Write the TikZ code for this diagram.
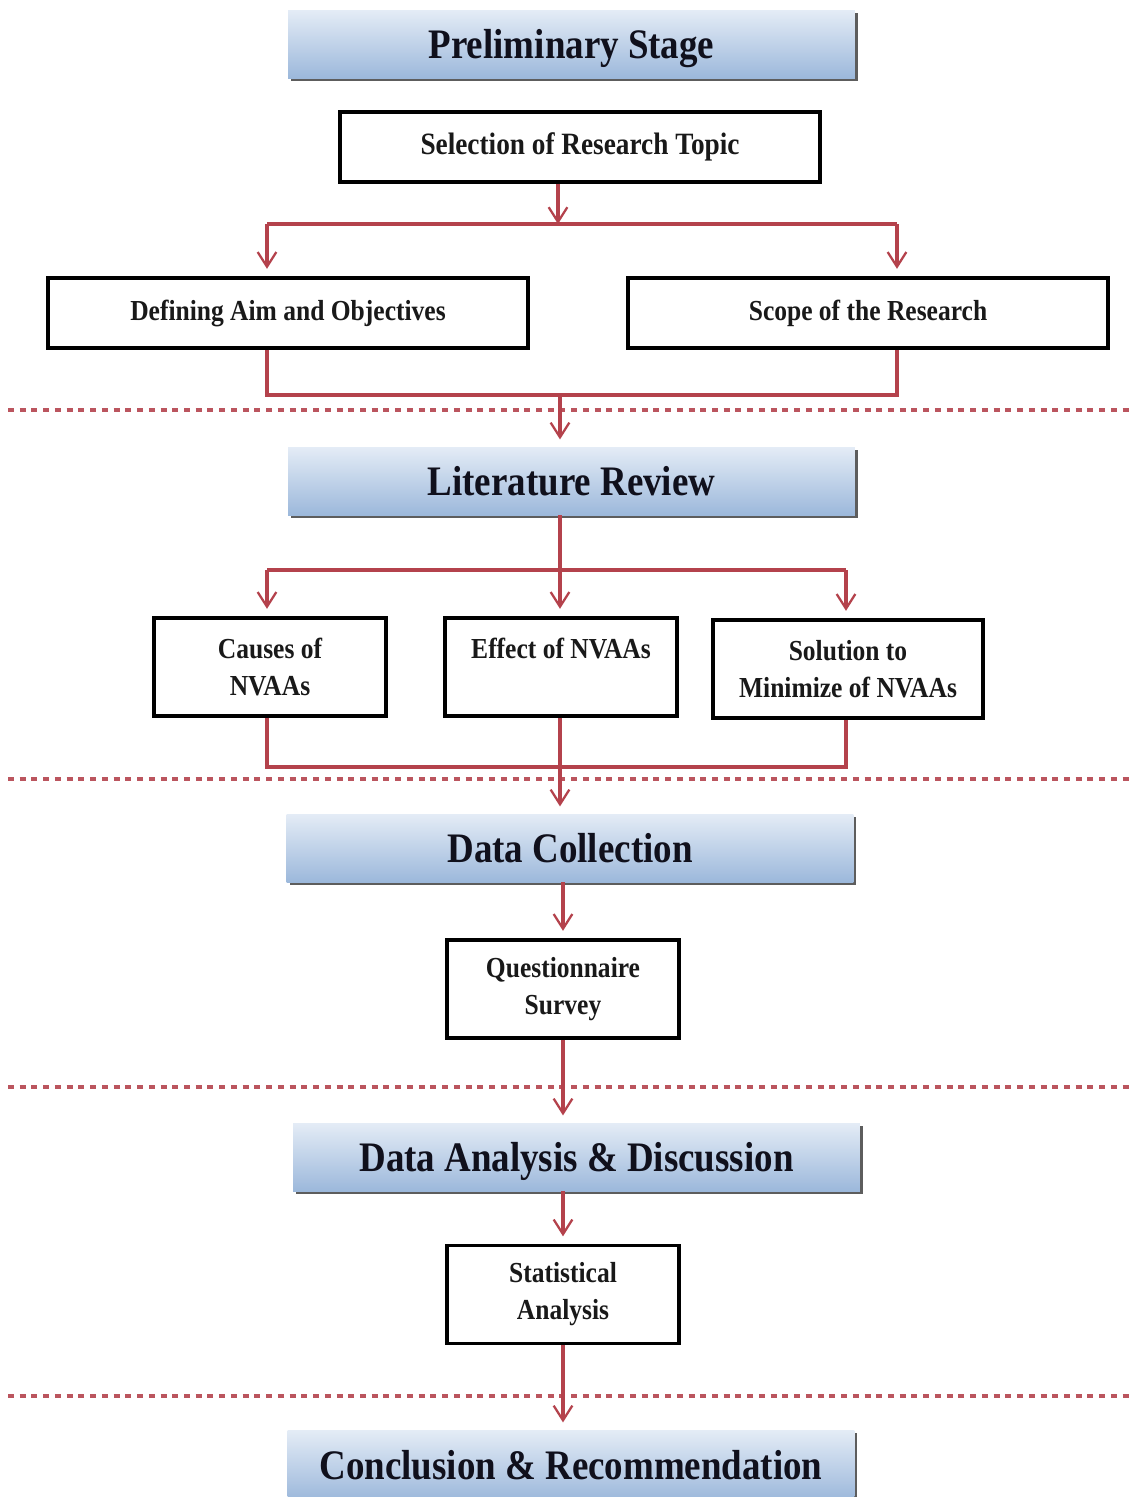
\documentclass[tikz,border=0pt]{standalone}
\usepackage{fontspec}
\setmainfont[FakeStretch=0.88]{Liberation Serif}
\usetikzlibrary{arrows.meta,shadows}
\definecolor{lnred}{HTML}{B4424C}
\definecolor{hdtop}{HTML}{E4ECF6}
\definecolor{hdbot}{HTML}{9CB8DB}
\definecolor{hdtxt}{HTML}{10101C}
\begin{document}
\begin{tikzpicture}[x=0.75pt,y=-0.75pt,
  hdr/.style={minimum width=425pt,minimum height=51pt,inner sep=0pt,
    top color=hdtop,bottom color=hdbot,
    drop shadow={shadow xshift=2.2pt,shadow yshift=-2.2pt,fill=black!70,opacity=0.9},
    text height=22pt,text depth=0pt,
    text=hdtxt,font=\bfseries\fontsize{31.5}{36}\selectfont},
  bx/.style={draw=black,line width=2.8pt,fill=white,inner sep=0pt,align=center,
    font=\bfseries\fontsize{21.75}{27.75}\selectfont,text=black!90},
  conn/.style={draw=lnred,line width=2.4pt},
  arr/.style={conn,-{Straight Barb[length=11pt,width=14pt,line width=1.7pt]},shorten >=5.5pt},
  sep/.style={draw=lnred!90,line width=3pt,dash pattern=on 4.5pt off 4.3pt}
]
\clip (0,0) rectangle (1129,1497);
\useasboundingbox (0,0) rectangle (1129,1497);
\fill[white] (0,0) rectangle (1129,1497);

% separators
\draw[sep] (8,410) -- (1129,410);
\draw[sep] (8,779) -- (1129,779);
\draw[sep] (8,1087) -- (1129,1087);
\draw[sep] (8,1396) -- (1129,1396);

% headers
\node[hdr] (P1) at (571.5,44) {Preliminary Stage};
\node[hdr] (LR) at (571.5,481) {Literature Review};
\node[hdr] (DC) at (570,848) {Data Collection};
\node[hdr] (DA) at (576.5,1157) {Data Analysis \& Discussion};
\node[hdr,minimum height=52.5pt] (CR) at (571,1465) {Conclusion \& Recommendation};

% boxes
\node[bx,minimum width=360pt,minimum height=52.5pt,font=\bfseries\fontsize{23.25}{28}\selectfont] (Sel) at (580,147) {Selection of Research Topic};
\node[bx,minimum width=360pt,minimum height=52.5pt] (Def) at (288,313) {Defining Aim and Objectives};
\node[bx,minimum width=360pt,minimum height=52.5pt] (Scope) at (868,313) {Scope of the Research};
\node[bx,minimum width=174pt,minimum height=73.5pt] (Causes) at (270,667) {Causes of\\NVAAs};
\node[bx,minimum width=174pt,minimum height=73.5pt] (Effect) at (561,667) {Effect of NVAAs\\\mbox{}};
\node[bx,minimum width=202.5pt,minimum height=73.5pt] (Sol) at (848,669) {Solution to\\Minimize of NVAAs};
\node[bx,minimum width=174pt,minimum height=73.5pt] (Q) at (563,989) {Questionnaire\\Survey};
\node[bx,minimum width=174pt,minimum height=73.5pt] (SA) at (563,1294.5) {Statistical\\Analysis};

% junction coordinates
\coordinate (j1) at (558,224);
\coordinate (j1L) at (267,224);
\coordinate (j1R) at (897,224);
\coordinate (j2) at (560,395);
\coordinate (j2L) at (267,395);
\coordinate (j2R) at (897,395);
\coordinate (j3) at (560,570);
\coordinate (j3L) at (267,570);
\coordinate (j3R) at (846,570);
\coordinate (j4) at (560,767);
\coordinate (j4L) at (267,767);
\coordinate (j4R) at (846,767);

% preliminary stage connectors
\draw[arr,shorten >=0pt] (Sel.south -| j1) -- (j1);
\draw[conn] (j1L) -- (j1R);
\draw[arr] (j1L) -- (j1L |- Def.north);
\draw[arr] (j1R) -- (j1R |- Scope.north);
\draw[conn] (Def.south -| j2L) -- (j2L) -- (j2R) -- (Scope.south -| j2R);
\draw[arr] (j2) -- (j2 |- LR.north);

% literature review connectors
\draw[conn] (LR.south -| j3) -- (j3);
\draw[conn] (j3L) -- (j3R);
\draw[arr] (j3L) -- (j3L |- Causes.north);
\draw[arr] (j3) -- (j3 |- Effect.north);
\draw[arr] (j3R) -- (j3R |- Sol.north);
\draw[conn] (Causes.south -| j4L) -- (j4L) -- (j4R) -- (Sol.south -| j4R);
\draw[arr] (Effect.south -| j4) -- (j4 |- DC.north);

% lower chain
\draw[arr] (DC.south -| Q) -- (Q.north);
\draw[arr] (Q.south) -- (Q.south |- DA.north);
\draw[arr] (DA.south -| SA) -- (SA.north);
\draw[arr] (SA.south) -- (SA.south |- CR.north);
\end{tikzpicture}
\end{document}
